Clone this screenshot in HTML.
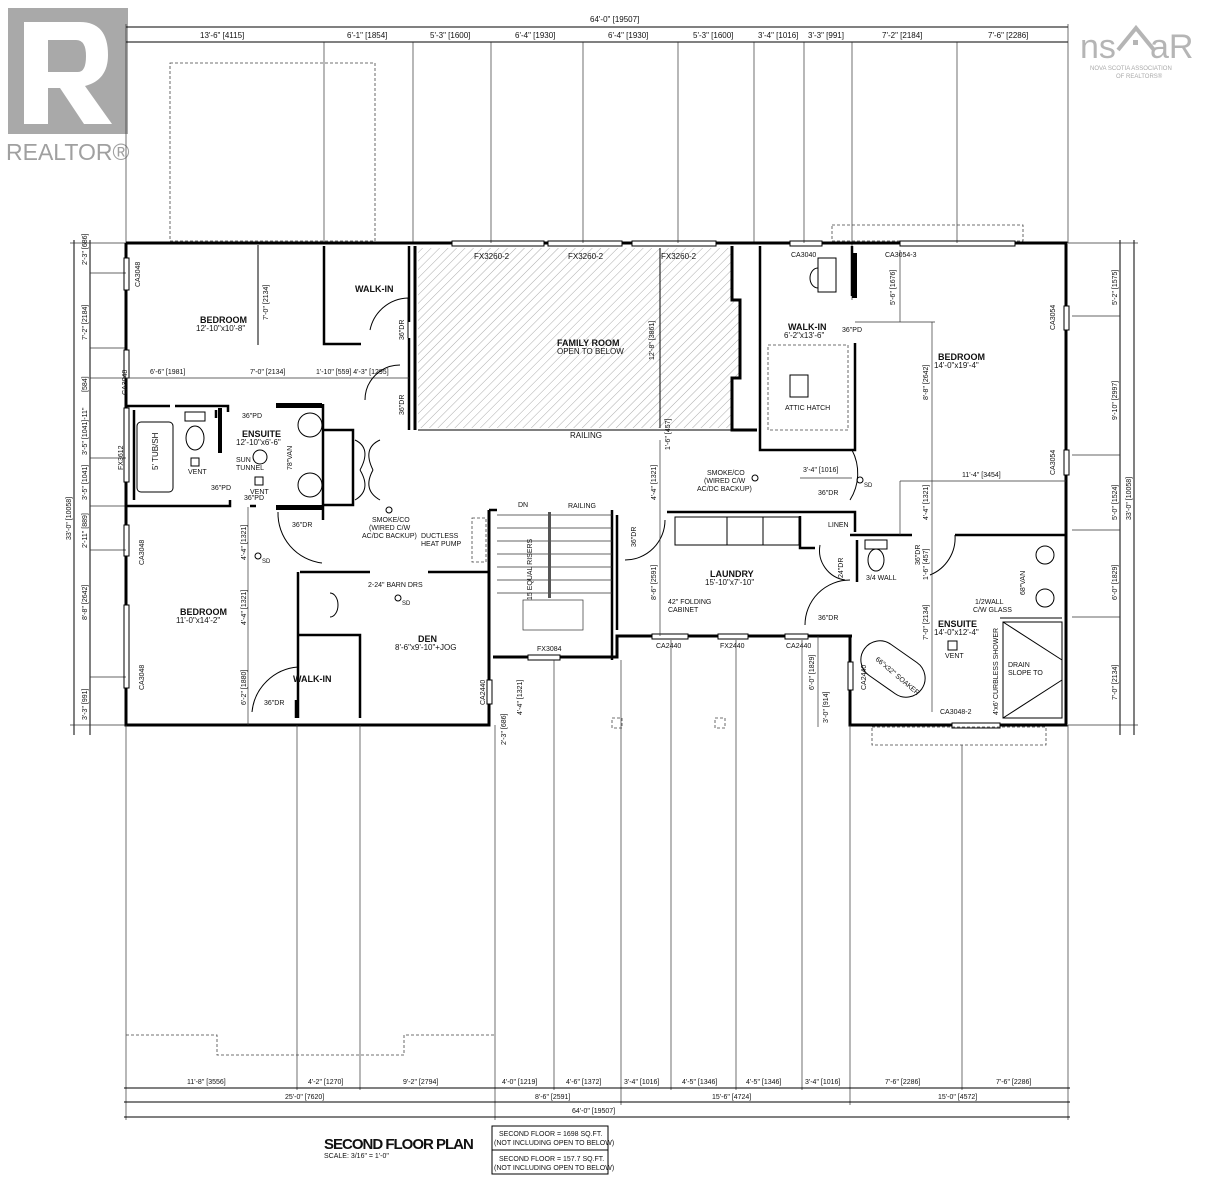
<!DOCTYPE html>
<html><head><meta charset="utf-8"><style>
html,body{margin:0;padding:0;background:#fff}
svg{display:block}
text{font-family:"Liberation Sans Narrow","Liberation Sans",sans-serif;font-size:8px;fill:#111}
.b{font-weight:bold;font-size:9px}
.w{fill:none;stroke:#000;stroke-width:3}
.t{fill:none;stroke:#000;stroke-width:1}
.h{fill:none;stroke:#333;stroke-width:0.7}
.d{fill:none;stroke:#444;stroke-width:0.8;stroke-dasharray:3 2}
</style></head><body>
<svg width="1216" height="1200" viewBox="0 0 1216 1200" xmlns="http://www.w3.org/2000/svg">
<defs>
<pattern id="hx" width="6" height="6" patternUnits="userSpaceOnUse" patternTransform="rotate(45)">
<line x1="0" y1="0" x2="0" y2="6" stroke="#888" stroke-width="0.7"/></pattern>
</defs>

<!-- REALTOR logo -->
<rect x="8" y="8" width="120" height="126" fill="#a9a9a9"/>
<path d="M24 22 H80 Q108 22 108 55 Q108 80 85 86 L112 124 H84 L60 88 H48 V124 H24 Z M48 40 V72 H78 Q86 72 86 56 Q86 40 76 40 Z" fill="#fff"/>
<text x="6" y="160" style="font-family:'Liberation Sans',sans-serif;font-size:23px;fill:#a0a0a0">REALTOR®</text>
<!-- NSAR logo -->
<text x="1080" y="58" style="font-family:'Liberation Sans',sans-serif;font-size:34px;fill:#b5b5b5">ns</text>
<path d="M1118 50 L1136 28 L1154 50" fill="none" stroke="#b5b5b5" stroke-width="4"/>
<rect x="1133" y="40" width="5" height="5" fill="#b5b5b5"/>
<text x="1150" y="58" style="font-family:'Liberation Sans',sans-serif;font-size:34px;fill:#b5b5b5">aR</text>
<text x="1090" y="70" style="font-size:6px;fill:#aaa">NOVA SCOTIA ASSOCIATION</text>
<text x="1116" y="78" style="font-size:6px;fill:#aaa">OF REALTORS®</text>

<!-- top dimension -->
<line class="t" x1="126" y1="27" x2="1068" y2="27"/>
<line class="t" x1="126" y1="42" x2="1068" y2="42"/>
<text x="590" y="22">64'-0" [19507]</text>
<g class="h">
<line x1="126" y1="24" x2="126" y2="243"/><line x1="324" y1="42" x2="324" y2="243"/><line x1="413" y1="42" x2="413" y2="243"/><line x1="491" y1="42" x2="491" y2="243"/><line x1="583" y1="42" x2="583" y2="243"/><line x1="678" y1="42" x2="678" y2="243"/><line x1="754" y1="42" x2="754" y2="243"/><line x1="804" y1="42" x2="804" y2="243"/><line x1="852" y1="42" x2="852" y2="300"/><line x1="957" y1="42" x2="957" y2="243"/><line x1="1068" y1="24" x2="1068" y2="243"/>
</g>
<g>
<text x="200" y="38">13'-6" [4115]</text><text x="347" y="38">6'-1" [1854]</text><text x="430" y="38">5'-3" [1600]</text><text x="515" y="38">6'-4" [1930]</text><text x="608" y="38">6'-4" [1930]</text><text x="693" y="38">5'-3" [1600]</text><text x="758" y="38">3'-4" [1016]</text><text x="808" y="38">3'-3" [991]</text><text x="882" y="38">7'-2" [2184]</text><text x="988" y="38">7'-6" [2286]</text>
</g>
<rect class="d" x="170" y="63" width="205" height="178"/>
<rect class="d" x="832" y="225" width="191" height="16"/>

<!-- left dimensions -->
<line class="t" x1="74" y1="240" x2="74" y2="735"/>
<line class="t" x1="90" y1="240" x2="90" y2="735"/>
<g class="h"><line x1="70" y1="243" x2="126" y2="243"/><line x1="90" y1="273" x2="126" y2="273"/><line x1="90" y1="348" x2="126" y2="348"/><line x1="90" y1="378" x2="126" y2="378"/><line x1="90" y1="458" x2="126" y2="458"/><line x1="90" y1="506" x2="126" y2="506"/><line x1="90" y1="550" x2="126" y2="550"/><line x1="90" y1="677" x2="126" y2="677"/><line x1="70" y1="725" x2="126" y2="725"/></g>
<g style="font-size:7px">
<text transform="translate(71,540) rotate(-90)" style="font-size:7px">33'-0" [10058]</text>
<text transform="translate(87,265) rotate(-90)" style="font-size:7px">2'-3" [686]</text>
<text transform="translate(87,340) rotate(-90)" style="font-size:7px">7'-2" [2184]</text>
<text transform="translate(87,392) rotate(-90)" style="font-size:7px">[584]</text>
<text transform="translate(87,455) rotate(-90)" style="font-size:7px">3'-5" [1041]-11"</text>
<text transform="translate(87,500) rotate(-90)" style="font-size:7px">3'-5" [1041]</text>
<text transform="translate(87,548) rotate(-90)" style="font-size:7px">2'-11" [889]</text>
<text transform="translate(87,620) rotate(-90)" style="font-size:7px">8'-8" [2642]</text>
<text transform="translate(87,720) rotate(-90)" style="font-size:7px">3'-3" [991]</text>
</g>
<!-- right dimensions -->
<line class="t" x1="1120" y1="240" x2="1120" y2="735"/>
<line class="t" x1="1134" y1="240" x2="1134" y2="735"/>
<g class="h"><line x1="1068" y1="243" x2="1138" y2="243"/><line x1="1072" y1="316" x2="1120" y2="316"/><line x1="1072" y1="455" x2="1120" y2="455"/><line x1="1072" y1="530" x2="1120" y2="530"/><line x1="1072" y1="617" x2="1120" y2="617"/><line x1="1068" y1="725" x2="1138" y2="725"/></g>
<text transform="translate(1117,305) rotate(-90)" style="font-size:7px">5'-2" [1575]</text>
<text transform="translate(1117,420) rotate(-90)" style="font-size:7px">9'-10" [2997]</text>
<text transform="translate(1117,520) rotate(-90)" style="font-size:7px">5'-0" [1524]</text>
<text transform="translate(1117,600) rotate(-90)" style="font-size:7px">6'-0" [1829]</text>
<text transform="translate(1117,700) rotate(-90)" style="font-size:7px">7'-0" [2134]</text>
<text transform="translate(1131,520) rotate(-90)" style="font-size:7px">33'-0" [10058]</text>

<!-- family room hatch -->
<path d="M418 248 H732 V300 H740 V378 H732 V428 H418 Z" fill="url(#hx)"/>
<line class="t" x1="660" y1="248" x2="660" y2="428"/>
<line class="t" x1="418" y1="430" x2="757" y2="430"/>
<text x="570" y="438">RAILING</text>
<text class="b" x="557" y="346">FAMILY ROOM</text>
<text x="557" y="354">OPEN TO BELOW</text>
<text transform="translate(654,360) rotate(-90)" style="font-size:7px">12'-8" [3861]</text>
<text x="474" y="259">FX3260-2</text><text x="568" y="259">FX3260-2</text><text x="661" y="259">FX3260-2</text>

<!-- exterior walls -->
<g class="w">
<path d="M126 243 H452 M544 243 H548 M622 243 H632 M716 243 H790 M822 243 H900 M1015 243 H1066 V306 M1066 330 V450 M1066 475 V725 H1000 M952 725 H850 V690 M850 662 V636"/>
<path d="M126 243 V258 M126 290 V350 M126 378 V408 M126 482 V525 M126 556 V605 M126 688 V725 H489 V704 M489 680 V510"/>
<path d="M493 657 H528 M560 657 H617 V636 H652 M688 636 H718 M748 636 H785 M808 636 H852"/>
<path d="M415 246 V430 M732 246 V300 H740 V378 H732 V430 H757"/>
</g>
<!-- windows -->
<g class="t">
<rect x="124" y="258" width="5" height="32"/><rect x="124" y="350" width="5" height="28"/><rect x="124" y="408" width="5" height="74"/><rect x="124" y="525" width="5" height="31"/><rect x="124" y="605" width="5" height="83"/>
<rect x="452" y="241" width="92" height="5"/><rect x="548" y="241" width="74" height="5"/><rect x="632" y="241" width="84" height="5"/><rect x="790" y="241" width="32" height="5"/><rect x="900" y="241" width="115" height="5"/>
<rect x="1064" y="306" width="5" height="24"/><rect x="1064" y="450" width="5" height="25"/><rect x="952" y="723" width="48" height="5"/>
<rect x="528" y="655" width="32" height="5"/><rect x="652" y="634" width="36" height="5"/><rect x="718" y="634" width="30" height="5"/><rect x="785" y="634" width="23" height="5"/><rect x="848" y="662" width="5" height="28"/><rect x="487" y="680" width="5" height="24"/>
</g>
<g style="font-size:7px">
<text transform="translate(140,287) rotate(-90)" style="font-size:7px">CA3048</text>
<text transform="translate(127,395) rotate(-90)" style="font-size:7px">CA3048</text>
<text transform="translate(123,470) rotate(-90)" style="font-size:7px">FX3612</text>
<text transform="translate(144,565) rotate(-90)" style="font-size:7px">CA3048</text>
<text transform="translate(144,690) rotate(-90)" style="font-size:7px">CA3048</text>
<text transform="translate(1055,330) rotate(-90)" style="font-size:7px">CA3054</text>
<text transform="translate(1055,475) rotate(-90)" style="font-size:7px">CA3054</text>
<text transform="translate(485,705) rotate(-90)" style="font-size:7px">CA2440</text>
<text transform="translate(866,690) rotate(-90)" style="font-size:7px">CA2440</text>
</g>
<text x="537" y="651" style="font-size:7px">FX3084</text>
<text x="656" y="648" style="font-size:7px">CA2440</text><text x="720" y="648" style="font-size:7px">FX2440</text><text x="786" y="648" style="font-size:7px">CA2440</text>
<text x="791" y="257" style="font-size:7px">CA3040</text><text x="885" y="257" style="font-size:7px">CA3054-3</text><text x="940" y="714" style="font-size:7px">CA3048-2</text>

<!-- interior walls left -->
<g class="w" style="stroke-width:2.5">
<path d="M324 246 V344 H361 M409 246 V322 M409 338 V430"/>
<path d="M126 406 H170 M175 406 H228 V412 M126 506 H230 V500 M134 410 V500 M216 410 V418"/>
<path d="M323 404 V520 M323 430 H353 V505 H323 M323 508 H276 M250 506 H256"/>
<path d="M300 572 H370 M428 572 H488 M298 572 V718 M298 635 H360 V718 M296 718 V700"/>
<path d="M489 510 H497 M617 515 V630 M612 510 V660"/>
<path d="M667 512 H855 V532 M800 516 V548 H815 M850 535 H912 M955 535 H1066 M857 540 V582"/>
<path d="M760 246 V450 H855 V343 M852 246 V296"/>
</g>
<rect x="276" y="403" width="46" height="5" fill="#000"/><rect x="276" y="505" width="46" height="5" fill="#000"/>
<rect x="218" y="408" width="4" height="45" fill="#000"/>
<rect x="852" y="253" width="5" height="45" fill="#000"/>
<!-- fixtures -->
<rect class="t" x="137" y="422" width="36" height="70" rx="4"/>
<text transform="translate(158,470) rotate(-90)">5' TUB/SH</text>
<ellipse class="t" cx="195" cy="438" rx="9" ry="12"/><rect class="t" x="185" y="412" width="20" height="9"/>
<rect class="t" x="191" y="458" width="8" height="8"/><text x="188" y="474" style="font-size:7px">VENT</text>
<text x="211" y="490" style="font-size:7px">36"PD</text>
<text x="242" y="418" style="font-size:7px">36"PD</text>
<text class="b" x="242" y="437">ENSUITE</text><text x="236" y="445">12'-10"x6'-6"</text>
<circle class="t" cx="260" cy="457" r="7"/><text x="236" y="462" style="font-size:7px">SUN</text><text x="236" y="470" style="font-size:7px">TUNNEL</text>
<rect class="t" x="255" y="477" width="8" height="8"/><text x="250" y="494" style="font-size:7px">VENT</text>
<text x="244" y="500" style="font-size:7px">36"PD</text>
<circle class="t" cx="310" cy="425" r="12"/><circle class="t" cx="310" cy="485" r="12"/>
<text transform="translate(292,470) rotate(-90)" style="font-size:7px">78"VAN</text>
<text class="b" x="200" y="323">BEDROOM</text><text x="196" y="331">12'-10"x10'-8"</text>
<text class="b" x="355" y="292">WALK-IN</text>
<text transform="translate(404,340) rotate(-90)" style="font-size:7px">36"DR</text>
<path class="t" d="M370 330 A40 40 0 0 1 408 298 V338"/>
<line class="t" x1="258" y1="245" x2="258" y2="345"/><text transform="translate(268,320) rotate(-90)" style="font-size:7px">7'-0" [2134]</text>
<line class="h" x1="126" y1="378" x2="409" y2="378"/>
<text x="150" y="374" style="font-size:7px">6'-6" [1981]</text><text x="250" y="374" style="font-size:7px">7'-0" [2134]</text><text x="316" y="374" style="font-size:7px">1'-10" [559] 4'-3" [1295]</text>
<path class="t" d="M365 400 A35 35 0 0 1 400 365"/><text transform="translate(404,415) rotate(-90)" style="font-size:7px">36"DR</text>
<path class="t" d="M355 440 Q372 448 360 470 M355 500 Q372 490 360 470 M380 440 Q362 448 373 470 M380 500 Q362 490 373 470"/>
<path class="t" d="M278 512 A50 50 0 0 0 322 563"/><text x="292" y="527" style="font-size:7px">36"DR</text>
<circle class="t" cx="389" cy="510" r="3"/><text x="372" y="522" style="font-size:7px">SMOKE/CO</text><text x="369" y="530" style="font-size:7px">(WIRED C/W</text><text x="362" y="538" style="font-size:7px">AC/DC BACKUP)</text>
<text x="421" y="538" style="font-size:7px">DUCTLESS</text><text x="421" y="546" style="font-size:7px">HEAT PUMP</text>
<rect class="d" x="472" y="518" width="14" height="44"/>
<line class="h" x1="248" y1="507" x2="248" y2="725"/>
<text transform="translate(246,560) rotate(-90)" style="font-size:7px">4'-4" [1321]</text>
<text transform="translate(246,625) rotate(-90)" style="font-size:7px">4'-4" [1321]</text>
<text transform="translate(246,705) rotate(-90)" style="font-size:7px">6'-2" [1880]</text>
<circle class="t" cx="258" cy="556" r="3"/><text x="262" y="563" style="font-size:6px">SD</text>
<text class="b" x="180" y="615">BEDROOM</text><text x="176" y="623">11'-0"x14'-2"</text>
<text class="b" x="293" y="682">WALK-IN</text>
<path class="t" d="M252 712 A50 50 0 0 1 298 667"/><text x="264" y="705" style="font-size:7px">36"DR</text>
<text x="368" y="587" style="font-size:7px">2-24" BARN DRS</text>
<circle class="t" cx="398" cy="598" r="3"/><text x="402" y="605" style="font-size:6px">SD</text>
<text class="b" x="418" y="642">DEN</text><text x="395" y="650">8'-6"x9'-10"+JOG</text>
<path class="t" d="M330 593 A8 12 0 0 1 330 617"/>
<!-- stairs -->
<g class="h">
<line x1="497" y1="515" x2="612" y2="515"/><line x1="497" y1="528" x2="612" y2="528"/><line x1="497" y1="541" x2="612" y2="541"/><line x1="497" y1="554" x2="612" y2="554"/><line x1="497" y1="567" x2="612" y2="567"/><line x1="497" y1="580" x2="612" y2="580"/><line x1="497" y1="593" x2="612" y2="593"/>
<rect x="523" y="600" width="60" height="30"/>
</g>
<rect x="548" y="512" width="3" height="86" fill="#555"/>
<text x="518" y="507" style="font-size:7px">DN</text><text x="568" y="508" style="font-size:7px">RAILING</text>
<text transform="translate(532,600) rotate(-90)" style="font-size:7px">15 EQUAL RISERS</text>
<text transform="translate(636,547) rotate(-90)" style="font-size:7px">36"DR</text>
<path class="t" d="M625 560 A40 40 0 0 0 665 520"/>
<!-- laundry area -->
<rect class="t" x="675" y="517" width="52" height="28"/><rect class="t" x="727" y="517" width="36" height="28"/><rect class="t" x="763" y="517" width="36" height="28"/>
<text class="b" x="710" y="577">LAUNDRY</text><text x="705" y="585">15'-10"x7'-10"</text>
<text x="668" y="604" style="font-size:7px">42" FOLDING</text><text x="668" y="612" style="font-size:7px">CABINET</text>
<line class="h" x1="660" y1="440" x2="660" y2="636"/>
<text transform="translate(656,600) rotate(-90)" style="font-size:7px">8'-6" [2591]</text>
<text transform="translate(656,500) rotate(-90)" style="font-size:7px">4'-4" [1321]</text>
<text transform="translate(670,450) rotate(-90)" style="font-size:7px">1'-6" [457]</text>
<text x="707" y="475" style="font-size:7px">SMOKE/CO</text><text x="704" y="483" style="font-size:7px">(WIRED C/W</text><text x="697" y="491" style="font-size:7px">AC/DC BACKUP)</text>
<circle class="t" cx="755" cy="478" r="3"/>
<text x="803" y="472" style="font-size:7px">3'-4" [1016]</text><line class="h" x1="800" y1="478" x2="852" y2="478"/>
<circle class="t" cx="860" cy="480" r="3"/><text x="864" y="487" style="font-size:6px">SD</text>
<text x="818" y="495" style="font-size:7px">36"DR</text><path class="t" d="M852 450 A50 50 0 0 1 850 500"/>
<text x="828" y="527" style="font-size:7px">LINEN</text>
<text transform="translate(843,578) rotate(-90)" style="font-size:7px">24"DR</text>
<path class="t" d="M820 545 A30 30 0 0 0 845 580"/>
<text x="866" y="580" style="font-size:7px">3/4 WALL</text>
<rect class="t" x="865" y="540" width="22" height="9"/><ellipse class="t" cx="876" cy="560" rx="8" ry="11"/>
<text transform="translate(920,565) rotate(-90)" style="font-size:7px">36"DR</text>
<path class="t" d="M805 625 A45 45 0 0 1 850 580"/><text x="818" y="620" style="font-size:7px">36"DR</text>
<path class="t" d="M930 575 A40 40 0 0 0 955 535"/>
<!-- right wing -->
<text class="b" x="788" y="330">WALK-IN</text><text x="784" y="338">6'-2"x13'-6"</text>
<text x="842" y="332" style="font-size:7px">36"PD</text>
<rect class="d" x="768" y="345" width="80" height="85"/>
<rect class="t" x="790" y="375" width="18" height="22"/><text x="785" y="410" style="font-size:7px">ATTIC HATCH</text>
<rect class="t" x="818" y="258" width="18" height="34"/><path class="t" d="M818 268 A8 10 0 0 0 818 288"/>
<text class="b" x="938" y="360">BEDROOM</text><text x="934" y="368">14'-0"x19'-4"</text>
<line class="h" x1="900" y1="250" x2="900" y2="322"/><line class="h" x1="855" y1="322" x2="935" y2="322"/>
<text transform="translate(895,305) rotate(-90)" style="font-size:7px">5'-6" [1676]</text>
<line class="h" x1="932" y1="322" x2="932" y2="712"/>
<text transform="translate(928,400) rotate(-90)" style="font-size:7px">8'-8" [2642]</text>
<text transform="translate(928,520) rotate(-90)" style="font-size:7px">4'-4" [1321]</text>
<text transform="translate(928,580) rotate(-90)" style="font-size:7px">1'-6" [457]</text>
<text transform="translate(928,640) rotate(-90)" style="font-size:7px">7'-0" [2134]</text>
<line class="h" x1="900" y1="481" x2="1066" y2="481"/><text x="962" y="477" style="font-size:7px">11'-4" [3454]</text>
<line class="h" x1="900" y1="481" x2="900" y2="535"/>
<!-- ensuite right -->
<circle class="t" cx="1045" cy="555" r="9"/><circle class="t" cx="1045" cy="598" r="9"/>
<text transform="translate(1025,595) rotate(-90)" style="font-size:7px">68"VAN</text>
<rect class="t" x="1003" y="622" width="59" height="96"/><line class="t" x1="1003" y1="622" x2="1062" y2="660"/><line class="t" x1="1003" y1="718" x2="1062" y2="680"/>
<line class="t" x1="1000" y1="618" x2="1062" y2="618"/>
<text x="975" y="604" style="font-size:7px">1/2WALL</text><text x="973" y="612" style="font-size:7px">C/W GLASS</text>
<text x="1008" y="667" style="font-size:7px">DRAIN</text><text x="1008" y="675" style="font-size:7px">SLOPE TO</text>
<text transform="translate(998,715) rotate(-90)" style="font-size:7px">4'x6' CURBLESS SHOWER</text>
<text class="b" x="938" y="627">ENSUITE</text><text x="934" y="635">14'-0"x12'-4"</text>
<rect class="t" x="948" y="641" width="9" height="9"/><text x="945" y="658" style="font-size:7px">VENT</text>
<rect class="t" x="858" y="650" width="70" height="38" rx="19" transform="rotate(35 893 669)"/>
<text transform="translate(875,660) rotate(40)" style="font-size:7px">66"x32" SOAKER</text>
<line class="h" x1="818" y1="636" x2="818" y2="727"/>
<text transform="translate(814,690) rotate(-90)" style="font-size:7px">6'-0" [1829]</text>
<text transform="translate(828,723) rotate(-90)" style="font-size:7px">3'-0" [914]</text>
<text transform="translate(506,745) rotate(-90)" style="font-size:7px">2'-3" [686]</text>
<text transform="translate(522,715) rotate(-90)" style="font-size:7px">4'-4" [1321]</text>
<rect class="d" x="872" y="727" width="174" height="18"/>
<rect class="d" x="612" y="718" width="10" height="10"/><rect class="d" x="715" y="718" width="10" height="10"/>

<!-- bottom extension lines -->
<g class="h">
<line x1="126" y1="725" x2="126" y2="1120"/><line x1="297" y1="725" x2="297" y2="1090"/><line x1="360" y1="725" x2="360" y2="1090"/><line x1="495" y1="725" x2="495" y2="1120"/><line x1="554" y1="660" x2="554" y2="1090"/><line x1="621" y1="660" x2="621" y2="1105"/><line x1="671" y1="640" x2="671" y2="1090"/><line x1="736" y1="640" x2="736" y2="1090"/><line x1="802" y1="640" x2="802" y2="1090"/><line x1="850" y1="725" x2="850" y2="1105"/><line x1="962" y1="745" x2="962" y2="1090"/><line x1="1068" y1="725" x2="1068" y2="1120"/>
</g>
<path class="d" d="M126 1035 H217 V1055 H404 V1035 H495"/>
<line class="t" x1="124" y1="1088" x2="1070" y2="1088"/>
<line class="t" x1="124" y1="1102" x2="1070" y2="1102"/>
<line class="t" x1="124" y1="1117" x2="1070" y2="1117"/>
<g style="font-size:7px">
<text x="187" y="1084" style="font-size:7px">11'-8" [3556]</text><text x="308" y="1084" style="font-size:7px">4'-2" [1270]</text><text x="403" y="1084" style="font-size:7px">9'-2" [2794]</text><text x="502" y="1084" style="font-size:7px">4'-0" [1219]</text><text x="566" y="1084" style="font-size:7px">4'-6" [1372]</text><text x="624" y="1084" style="font-size:7px">3'-4" [1016]</text><text x="682" y="1084" style="font-size:7px">4'-5" [1346]</text><text x="746" y="1084" style="font-size:7px">4'-5" [1346]</text><text x="805" y="1084" style="font-size:7px">3'-4" [1016]</text><text x="885" y="1084" style="font-size:7px">7'-6" [2286]</text><text x="996" y="1084" style="font-size:7px">7'-6" [2286]</text>
<text x="285" y="1099" style="font-size:7px">25'-0" [7620]</text><text x="535" y="1099" style="font-size:7px">8'-6" [2591]</text><text x="712" y="1099" style="font-size:7px">15'-6" [4724]</text><text x="938" y="1099" style="font-size:7px">15'-0" [4572]</text>
<text x="572" y="1113" style="font-size:7px">64'-0" [19507]</text>
</g>
<text x="324" y="1149" style="font-family:'Liberation Sans',sans-serif;font-size:15px;font-weight:bold;letter-spacing:-1px">SECOND FLOOR PLAN</text>
<text x="324" y="1158" style="font-size:7px">SCALE: 3/16" = 1'-0"</text>
<rect class="t" x="492" y="1126" width="116" height="24"/><rect class="t" x="492" y="1150" width="116" height="24"/>
<text x="499" y="1136" style="font-size:7px">SECOND FLOOR = 1698 SQ.FT.</text><text x="494" y="1145" style="font-size:7px">(NOT INCLUDING OPEN TO BELOW)</text>
<text x="499" y="1161" style="font-size:7px">SECOND FLOOR = 157.7 SQ.FT.</text><text x="494" y="1170" style="font-size:7px">(NOT INCLUDING OPEN TO BELOW)</text>
</svg>
</body></html>
